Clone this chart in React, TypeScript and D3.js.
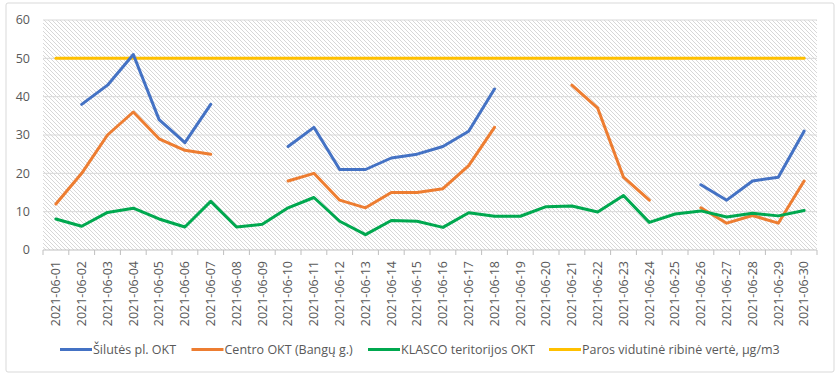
import React from "react";
import * as d3 from "d3";

const dates: string[] = [
  "2021-06-01","2021-06-02","2021-06-03","2021-06-04","2021-06-05","2021-06-06","2021-06-07","2021-06-08","2021-06-09","2021-06-10",
  "2021-06-11","2021-06-12","2021-06-13","2021-06-14","2021-06-15","2021-06-16","2021-06-17","2021-06-18","2021-06-19","2021-06-20",
  "2021-06-21","2021-06-22","2021-06-23","2021-06-24","2021-06-25","2021-06-26","2021-06-27","2021-06-28","2021-06-29","2021-06-30",
];

const silutes: (number | null)[] = [
  null, 38, 43, 51, 34, 28, 38, null, null, 27,
  32, 21, 21, 24, 25, 27, 31, 42, null, null,
  null, null, null, null, null, 17, 13, 18, 19, 31,
];

const centro: (number | null)[] = [
  12, 20, 30, 36, 29, 26, 25, null, null, 18,
  20, 13, 11, 15, 15, 16, 22, 32, null, null,
  43, 37, 19, 13, null, 11, 7, 9, 7, 18,
];

const klasco: (number | null)[] = [
  8.1, 6.2, 9.8, 10.9, 8.1, 6.0, 12.7, 6.0, 6.7, 11.0,
  13.7, 7.5, 4.0, 7.7, 7.5, 5.9, 9.7, 8.8, 8.8, 11.3,
  11.5, 9.9, 14.2, 7.2, 9.4, 10.2, 8.6, 9.6, 8.9, 10.3,
];

const limit: (number | null)[] = dates.map(() => 50);

const yTicks: number[] = [0, 10, 20, 30, 40, 50, 60];

const seriesNames: string[] = [
  "Šilutės pl. OKT",
  "Centro OKT (Bangų g.)",
  "KLASCO teritorijos OKT",
  "Paros vidutinė ribinė vertė, µg/m3",
];
const seriesColors: string[] = ["#4472C4", "#ED7D31", "#00A84F", "#FFC000"];
const seriesData = [silutes, centro, klasco, limit];

const FONT = "'Open Sans', 'Noto Sans', sans-serif";

export default function App() {
  const W = 840, H = 378;
  const left = 43, right = 817, top = 20, bottom = 250;

  const x = d3.scaleBand<string>().domain(dates).range([left, right]);
  const y = d3.scaleLinear().domain([0, 60]).range([bottom, top]);
  const cx = (d: string) => (x(d) as number) + x.bandwidth() / 2;

  const line = d3
    .line<number | null>()
    .defined((v) => v !== null)
    .x((_, i) => cx(dates[i]))
    .y((v) => y(v as number));

  const legendX = [60, 191.5, 368, 549];
  const legendY = 349.5;

  return (
    <svg width={W} height={H} style={{ position: "absolute", left: 0, top: 0 }}>
      <defs>
        <pattern id="hatch" width="4" height="4" patternUnits="userSpaceOnUse">
          <rect width="4" height="4" fill="#ffffff" />
          <path d="M-1,-1 L5,5 M-1,3 L1,5 M3,-1 L5,1" stroke="#d2d2d2" strokeWidth="0.9" />
        </pattern>
      </defs>
      <rect x={0} y={0} width={W} height={H} fill="#ffffff" />
      <rect x={6} y={3} width={828} height={369} fill="#ffffff" stroke="#d9d9d9" strokeWidth={1} rx={2} />
      <rect x={left} y={top} width={right - left} height={bottom - top} fill="url(#hatch)" />

      {yTicks.filter((t) => t > 0).map((t) => (
        <line key={"g" + t} x1={left} x2={right} y1={y(t)} y2={y(t)} stroke="#d9d9d9" strokeWidth={1} />
      ))}

      {yTicks.map((t) => (
        <text key={"y" + t} x={30} y={y(t)} dy="0.35em" textAnchor="end" fontFamily={FONT} fontSize={12.5} fill="#595959">
          {t}
        </text>
      ))}

      <line x1={left} x2={right} y1={bottom} y2={bottom} stroke="#bfbfbf" strokeWidth={1} />
      {[...dates.map((d) => x(d) as number), right].map((px, i) => (
        <line key={"t" + i} x1={px} x2={px} y1={bottom} y2={bottom + 5} stroke="#bfbfbf" strokeWidth={1} />
      ))}

      {dates.map((d) => (
        <text
          key={"x" + d}
          transform={`translate(${cx(d)},${bottom + 11}) rotate(-90)`}
          textAnchor="end"
          dy="0.35em"
          fontFamily={FONT}
          fontSize={12.5}
          fill="#595959"
        >
          {d}
        </text>
      ))}

      {[3, 0, 1, 2].map((si) => (
        <path
          key={"s" + si}
          d={line(seriesData[si]) || ""}
          fill="none"
          stroke={seriesColors[si]}
          strokeWidth={3}
          strokeLinejoin="round"
          strokeLinecap="round"
        />
      ))}

      {seriesNames.map((n, i) => (
        <g key={"l" + i}>
          <line x1={legendX[i]} x2={legendX[i] + 32} y1={legendY} y2={legendY} stroke={seriesColors[i]} strokeWidth={3} />
          <text x={legendX[i] + 33} y={legendY} dy="0.35em" fontFamily={FONT} fontSize={12.5} fill="#595959">
            {n}
          </text>
        </g>
      ))}
    </svg>
  );
}
